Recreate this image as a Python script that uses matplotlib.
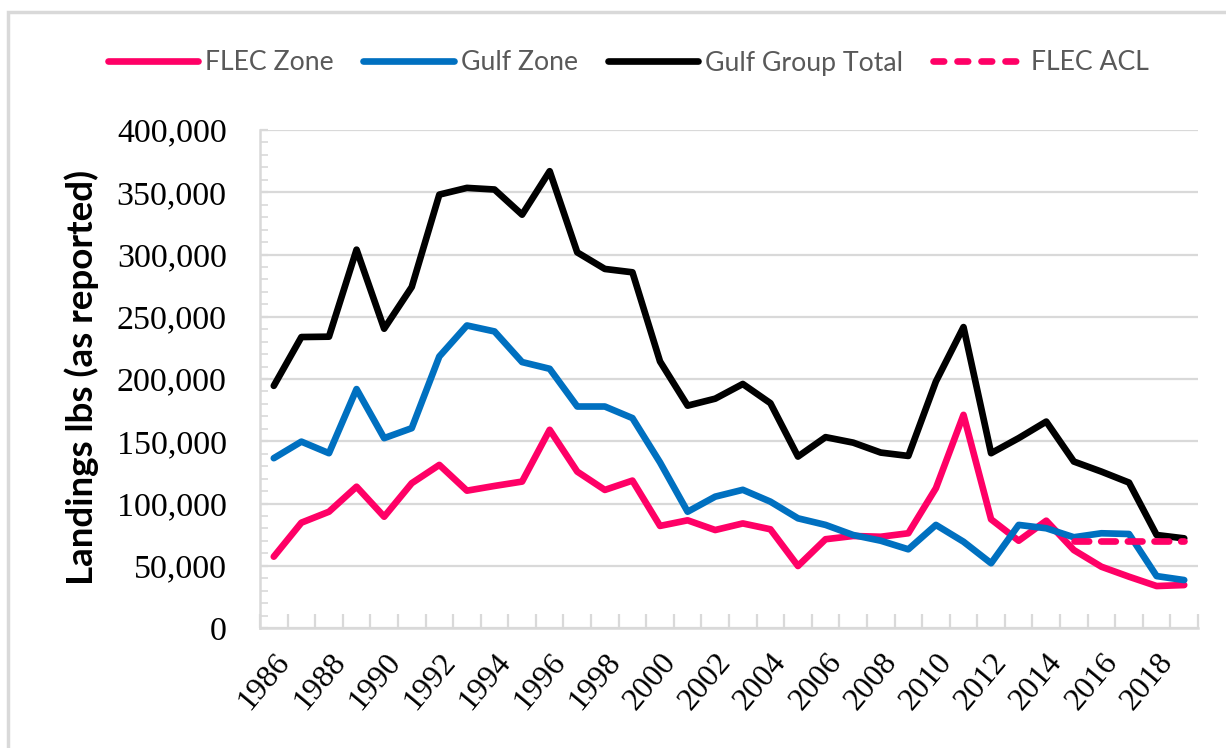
import matplotlib
matplotlib.use('Agg')
import matplotlib.pyplot as plt
import numpy as np
from matplotlib.ticker import FuncFormatter, MultipleLocator, FixedLocator, NullFormatter
from matplotlib.patches import Rectangle
from matplotlib.lines import Line2D

years = list(range(1986, 2020))
flec_zone = [57300, 84600, 93400, 113500, 89400, 116300, 131000, 110300, 114100, 117600,
             159200, 125600, 110900, 118400, 82000, 86500, 78700, 84000, 79300, 49800,
             71300, 73900, 73300, 76100, 112300, 171200, 87300, 70100, 86200, 62600,
             49200, 41200, 33700, 34500]
gulf_zone = [136400, 149700, 140400, 191900, 152500, 160500, 218100, 243000, 238200, 213600,
             208200, 177900, 177900, 168600, 133000, 93400, 105500, 111000, 101500, 88100,
             82800, 74700, 70100, 63200, 82800, 69300, 52000, 82800, 80100, 72900,
             76100, 75500, 41700, 38500]
gulf_total = [194500, 233700, 234000, 303900, 240400, 273900, 348100, 353500, 352200, 332000,
              366900, 301700, 288400, 285700, 214100, 178600, 184200, 196000, 180600, 137700,
              153300, 148900, 140900, 138200, 198000, 241700, 140400, 152500, 165800, 133700,
              125600, 116800, 74700, 72000]
flec_acl = [np.nan] * 29 + [70000] * 5
label_years = [str(y) for y in years[::2]]

PINK = '#FF0066'
BLUE = '#0070C0'
BLACK = '#000000'
GRID = '#D9D9D9'

fig = plt.figure(figsize=(12.26, 7.48), dpi=100)
ax = fig.add_axes([260/1226, 1-628/748, (1198-260)/1226, (628-130)/748])

x = np.arange(len(years))
lw = 4.8
ax.plot(x, flec_zone, color=PINK, lw=lw, solid_joinstyle='round', solid_capstyle='round', zorder=3)
ax.plot(x, gulf_zone, color=BLUE, lw=lw, solid_joinstyle='round', solid_capstyle='round', zorder=4)
ax.plot(x, gulf_total, color=BLACK, lw=lw, solid_joinstyle='round', solid_capstyle='round', zorder=5)
ax.plot(x, flec_acl, color=PINK, lw=lw, dashes=(2.2, 1.8), dash_capstyle='round', zorder=6)

ax.set_xlim(-0.5, len(years) - 0.5)
ax.set_ylim(0, 400000)

ax.yaxis.set_major_locator(MultipleLocator(50000))
ax.yaxis.set_minor_locator(MultipleLocator(10000))
ax.yaxis.set_major_formatter(FuncFormatter(lambda v, p: f'{int(v):,}'))
ax.grid(axis='y', which='major', color=GRID, lw=1.6, zorder=0)
ax.set_axisbelow(True)

# x: tick marks at category boundaries, labels at centres every 2 years
ax.xaxis.set_major_locator(FixedLocator(np.arange(-0.5, len(years), 1.0)))
ax.xaxis.set_major_formatter(NullFormatter())
ax.xaxis.set_minor_locator(FixedLocator(x[::2]))
ax.xaxis.set_minor_formatter(FuncFormatter(lambda v, p: label_years[int(round(v)) // 2]))
ax.tick_params(axis='x', which='major', direction='in', length=10, width=1.6, color=GRID)
ax.tick_params(axis='x', which='minor', length=0, pad=14)
ax.tick_params(axis='y', which='major', direction='in', length=6, width=1.6, color=GRID, pad=24)
ax.tick_params(axis='y', which='minor', direction='in', length=6, width=1.2, color=GRID)

for lab in ax.get_yticklabels():
    lab.set_fontfamily('Liberation Serif')
    lab.set_fontsize(24.5)
for lab in ax.xaxis.get_minorticklabels():
    lab.set_fontfamily('Liberation Serif')
    lab.set_fontsize(23)
    lab.set_rotation(50)
    lab.set_ha('right')
    lab.set_va('top')
    lab.set_rotation_mode('anchor')

for s in ['top', 'right']:
    ax.spines[s].set_visible(False)
for s in ['left', 'bottom']:
    ax.spines[s].set_color(GRID)
    ax.spines[s].set_linewidth(1.8)

fig.text(82/1226, 1-377/748, 'Landings lbs (as reported)', rotation=90, ha='center', va='center',
         fontsize=26.5, fontweight='bold', family='Lato', color='black')

handles = [
    Line2D([], [], color=PINK, lw=lw, solid_capstyle='round'),
    Line2D([], [], color=BLUE, lw=lw, solid_capstyle='round'),
    Line2D([], [], color=BLACK, lw=lw, solid_capstyle='round'),
    Line2D([], [], color=PINK, lw=lw, dashes=(1.6, 2.0), dash_capstyle='round'),
]
labels = ['FLEC Zone', 'Gulf Zone', 'Gulf Group Total', 'FLEC ACL']
leg = fig.legend(handles, labels, loc='center', bbox_to_anchor=(628/1226, 1-63/748), ncol=4,
                 frameon=False, handlelength=3.4, handletextpad=0.27, columnspacing=1.1,
                 prop={'family': 'Lato', 'size': 19.2})
for t in leg.get_texts():
    t.set_color('#595959')

fig.patches.append(Rectangle((8/1226, -0.1), 1.2, 1.1 - 12/748, transform=fig.transFigure,
                             fill=False, edgecolor=GRID, lw=2.5, zorder=0))

fig.savefig('out.png', dpi=100, facecolor='white')
